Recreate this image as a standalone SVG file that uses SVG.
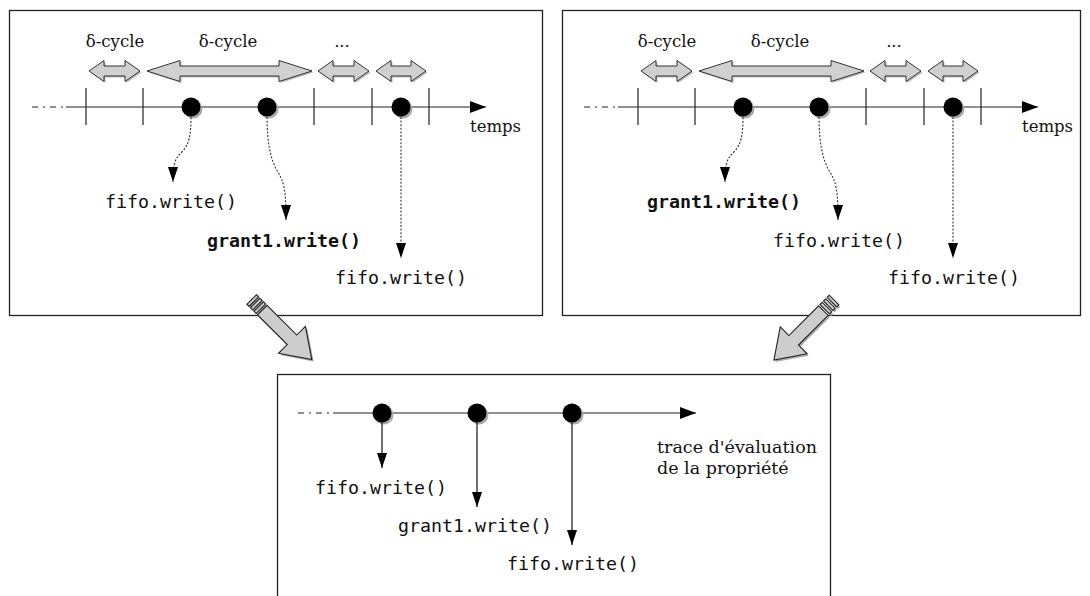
<svg xmlns="http://www.w3.org/2000/svg" xmlns:xlink="http://www.w3.org/1999/xlink" width="1090" height="596" viewBox="0 0 1090 596">
<style>
.box{fill:#fff;stroke:#222;stroke-width:1.3}
.tl{stroke:#222;stroke-width:1.2;fill:none}
.tld{stroke:#222;stroke-width:1.2;fill:none;stroke-dasharray:6,5,2,5}
.tick{stroke:#222;stroke-width:1.2}
.dot{fill:#000}
.dsh{fill:#aaa}
.dotted{stroke:#333;stroke-width:1.1;fill:none;stroke-dasharray:2,1.6}
.solid{stroke:#111;stroke-width:1.2;fill:none}
.dbl{fill:#d0d0d0;stroke:#333;stroke-width:1}
.dblsh{fill:#bbb;stroke:none}
.big{fill:#cdcdcd;stroke:#222;stroke-width:1.1}
.bigsh{fill:#aaa;stroke:none}
.ser{font-family:"DejaVu Serif","Liberation Serif",serif;font-size:16.5px;fill:#111}
.ser2{font-family:"DejaVu Serif","Liberation Serif",serif;font-size:17.5px;fill:#111}
.mono{font-family:"DejaVu Sans Mono","Liberation Mono",monospace;font-size:18.3px;fill:#111}
.b{font-weight:bold}
</style>
<defs>
<marker id="ah" viewBox="0 0 15 10" refX="15" refY="5" markerWidth="15" markerHeight="10" markerUnits="userSpaceOnUse" orient="auto">
<path d="M0,0 L15,5 L0,10 z" fill="#000"/>
</marker>
<marker id="ah2" viewBox="0 0 16 12" refX="16" refY="6" markerWidth="16" markerHeight="12" markerUnits="userSpaceOnUse" orient="auto">
<path d="M0,0 L16,6 L0,12 z" fill="#000"/>
</marker>
<g id="bigArrowShape">
<rect x="0" y="-6.75" width="3" height="13.5"/>
<rect x="5" y="-6.75" width="3" height="13.5"/>
<rect x="10" y="-6.75" width="3" height="13.5"/>
<polygon points="15,-6.75 57,-6.75 57,-19 85,0 57,19 57,6.75 15,6.75"/>
</g>
<g id="cycles">
<path class="dblsh" transform="translate(1.5,1.5)" d="M89,71 L104,60.5 L104,66 L125,66 L125,60.5 L140,71 L125,81.5 L125,76 L104,76 L104,81.5 z"/>
<path class="dbl" d="M89,71 L104,60.5 L104,66 L125,66 L125,60.5 L140,71 L125,81.5 L125,76 L104,76 L104,81.5 z"/>
<path class="dblsh" transform="translate(1.5,1.5)" d="M147,71 L180,60.5 L180,66 L279,66 L279,60.5 L312,71 L279,81.5 L279,76 L180,76 L180,81.5 z"/>
<path class="dbl" d="M147,71 L180,60.5 L180,66 L279,66 L279,60.5 L312,71 L279,81.5 L279,76 L180,76 L180,81.5 z"/>
<path class="dblsh" transform="translate(1.5,1.5)" d="M318,71 L333,60.5 L333,66 L354,66 L354,60.5 L369,71 L354,81.5 L354,76 L333,76 L333,81.5 z"/>
<path class="dbl" d="M318,71 L333,60.5 L333,66 L354,66 L354,60.5 L369,71 L354,81.5 L354,76 L333,76 L333,81.5 z"/>
<path class="dblsh" transform="translate(1.5,1.5)" d="M376,71 L391,60.5 L391,66 L411,66 L411,60.5 L426,71 L411,81.5 L411,76 L391,76 L391,81.5 z"/>
<path class="dbl" d="M376,71 L391,60.5 L391,66 L411,66 L411,60.5 L426,71 L411,81.5 L411,76 L391,76 L391,81.5 z"/>
<text class="ser" x="115" y="47" text-anchor="middle">δ-cycle</text>
<text class="ser" x="228" y="47" text-anchor="middle">δ-cycle</text>
<text class="ser" x="342" y="47" text-anchor="middle">...</text>
</g>
</defs>

<!-- Boxes -->
<g id="panel-left"><rect class="box" x="9.5" y="10.5" width="533" height="305"/></g>
<g id="panel-right"><rect class="box" x="562.5" y="10.5" width="518" height="305"/></g>
<g id="panel-bottom"><rect class="box" x="277.5" y="374.5" width="553" height="230"/></g>

<!-- Left panel -->
<g id="left-cycles"><use xlink:href="#cycles"/></g>
<g id="left-timeline">
<line class="tld" x1="32" y1="107" x2="66" y2="107"/>
<line class="tl" x1="66" y1="107" x2="486" y2="107" marker-end="url(#ah2)"/>
<line class="tick" x1="86" y1="88" x2="86" y2="125"/>
<line class="tick" x1="143" y1="88" x2="143" y2="125"/>
<line class="tick" x1="314" y1="88" x2="314" y2="125"/>
<line class="tick" x1="372" y1="88" x2="372" y2="125"/>
<line class="tick" x1="429" y1="88" x2="429" y2="125"/>
<text class="ser" x="470" y="132">temps</text>
</g>
<g id="left-event1"><circle class="dsh" cx="193" cy="109" r="9.5"/><circle class="dot" cx="191" cy="107" r="9.5"/></g>
<g id="left-event2"><circle class="dsh" cx="269" cy="109" r="9.5"/><circle class="dot" cx="267" cy="107" r="9.5"/></g>
<g id="left-event3"><circle class="dsh" cx="403" cy="109" r="9.5"/><circle class="dot" cx="401" cy="107" r="9.5"/></g>
<g id="left-label1"><text class="mono" x="105" y="208">fifo.write()</text></g>
<g id="left-label2"><text class="mono b" x="207" y="247">grant1.write()</text></g>
<g id="left-label3"><text class="mono" x="335" y="284">fifo.write()</text></g>

<!-- Right panel -->
<g id="right-cycles"><use xlink:href="#cycles" transform="translate(552,0)"/></g>
<g id="right-timeline">
<line class="tld" x1="584" y1="107" x2="618" y2="107"/>
<line class="tl" x1="618" y1="107" x2="1038" y2="107" marker-end="url(#ah2)"/>
<line class="tick" x1="638" y1="88" x2="638" y2="125"/>
<line class="tick" x1="695" y1="88" x2="695" y2="125"/>
<line class="tick" x1="866" y1="88" x2="866" y2="125"/>
<line class="tick" x1="924" y1="88" x2="924" y2="125"/>
<line class="tick" x1="981" y1="88" x2="981" y2="125"/>
<text class="ser" x="1022" y="132">temps</text>
</g>
<g id="right-event1"><circle class="dsh" cx="745" cy="109" r="9.5"/><circle class="dot" cx="743" cy="107" r="9.5"/></g>
<g id="right-event2"><circle class="dsh" cx="821" cy="109" r="9.5"/><circle class="dot" cx="819" cy="107" r="9.5"/></g>
<g id="right-event3"><circle class="dsh" cx="955" cy="109" r="9.5"/><circle class="dot" cx="953" cy="107" r="9.5"/></g>
<g id="right-label1"><text class="mono b" x="647" y="208">grant1.write()</text></g>
<g id="right-label2"><text class="mono" x="773" y="247">fifo.write()</text></g>
<g id="right-label3"><text class="mono" x="888" y="284">fifo.write()</text></g>

<!-- Bottom panel -->
<g id="bottom-timeline">
<line class="tld" x1="298" y1="413" x2="333" y2="413"/>
<line class="tl" x1="333" y1="413" x2="696" y2="413" marker-end="url(#ah2)"/>
<text class="ser2" x="657" y="453">trace d'évaluation</text>
<text class="ser2" x="657" y="474">de la propriété</text>
</g>
<g id="bottom-event1"><circle class="dsh" cx="384" cy="415" r="9.5"/><circle class="dot" cx="382" cy="413" r="9.5"/></g>
<g id="bottom-event2"><circle class="dsh" cx="479" cy="415" r="9.5"/><circle class="dot" cx="477" cy="413" r="9.5"/></g>
<g id="bottom-event3"><circle class="dsh" cx="574" cy="415" r="9.5"/><circle class="dot" cx="572" cy="413" r="9.5"/></g>
<g id="bottom-label1"><text class="mono" x="315" y="494">fifo.write()</text></g>
<g id="bottom-label2"><text class="mono" x="398" y="532">grant1.write()</text></g>
<g id="bottom-label3"><text class="mono" x="507" y="570">fifo.write()</text></g>

<!-- Connectors -->
<g id="connectors">
<path class="dotted" d="M191,117 C191,135 189,145 182,152 C175,159 173,162 173,182" marker-end="url(#ah)"/>
<path class="dotted" d="M267,117 C267,140 270,160 278,172 C284,182 286,190 286,220" marker-end="url(#ah)"/>
<path class="dotted" d="M401,117 L401,258" marker-end="url(#ah)"/>
<path class="dotted" d="M743,117 C743,135 741,145 734,152 C727,159 725,162 725,182" marker-end="url(#ah)"/>
<path class="dotted" d="M819,117 C819,140 822,160 830,172 C836,182 838,190 838,220" marker-end="url(#ah)"/>
<path class="dotted" d="M953,117 L953,258" marker-end="url(#ah)"/>
<path class="solid" d="M382,422 L382,468" marker-end="url(#ah)"/>
<path class="solid" d="M477,422 L477,507" marker-end="url(#ah)"/>
<path class="solid" d="M572,422 L572,545" marker-end="url(#ah)"/>
<g id="flow-left">
<use xlink:href="#bigArrowShape" class="bigsh" transform="translate(253.5,301.5) rotate(45)"/>
<use xlink:href="#bigArrowShape" class="big" transform="translate(251.7,299.5) rotate(45)"/>
</g>
<g id="flow-right">
<use xlink:href="#bigArrowShape" class="bigsh" transform="translate(835.5,302) rotate(135)"/>
<use xlink:href="#bigArrowShape" class="big" transform="translate(834,300) rotate(135)"/>
</g>
</g>
</svg>
